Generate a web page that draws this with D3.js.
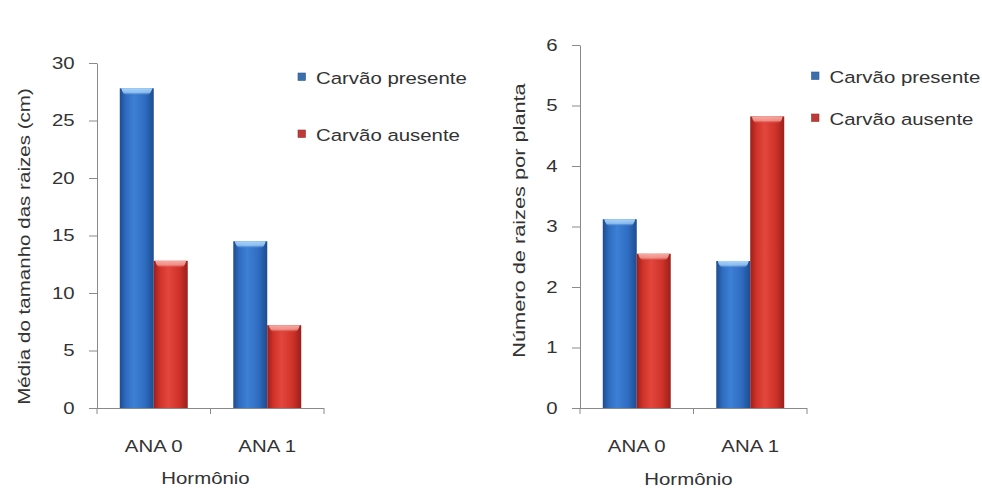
<!DOCTYPE html>
<html>
<head>
<meta charset="utf-8">
<script src="https://cdn.jsdelivr.net/npm/d3@7"></script>
<style>
  html, body { margin: 0; padding: 0; background: #ffffff; }
  svg { display: block; }
  text { font-family: "Liberation Sans", Arial, sans-serif; fill: #333333; }
</style>
</head>
<body>
<svg id="chart" width="982" height="490"></svg>
<script>
// Categories and series
const categories = ["ANA 0", "ANA 1"];
const seriesNames = ["Carvão presente", "Carvão ausente"];

// Mean root length (cm)
const lengthPresent = [27.8, 14.5];
const lengthAbsent = [12.8, 7.2];
const lengthTicks = [0, 5, 10, 15, 20, 25, 30];

// Number of roots per plant
const countPresent = [3.12, 2.43];
const countAbsent = [2.55, 4.82];
const countTicks = [0, 1, 2, 3, 4, 5, 6];

const xAxisTitle = "Hormônio";
const lengthTitle = "Média do tamanho das raizes (cm)";
const countTitle = "Número de raizes por planta";

const svg = d3.select("#chart");
const FONT = 17;       // px
const SX = 1.2;        // horizontal widening of the glyphs

// Gradients: cylinder-like shading for bars and a light bevel on top
const defs = svg.append("defs");
const palettes = [
  { id: "blue", edge: "#1d4c8f", mid: "#3d80d6", body: "#2e6cc0", cap: "#a8d4fa", key: "#3b6fae" },
  { id: "red",  edge: "#9a1f1b", mid: "#e2463d", body: "#cf3229", cap: "#f7aaa2", key: "#be3a38" }
];
palettes.forEach(p => {
  const g = defs.append("linearGradient").attr("id", "bar-" + p.id)
    .attr("x1", "0").attr("x2", "1").attr("y1", "0").attr("y2", "0");
  g.append("stop").attr("offset", "0%").attr("stop-color", p.edge);
  g.append("stop").attr("offset", "18%").attr("stop-color", p.body);
  g.append("stop").attr("offset", "42%").attr("stop-color", p.mid);
  g.append("stop").attr("offset", "75%").attr("stop-color", p.body);
  g.append("stop").attr("offset", "100%").attr("stop-color", p.edge);
  const c = defs.append("linearGradient").attr("id", "cap-" + p.id)
    .attr("x1", "0").attr("x2", "0").attr("y1", "0").attr("y2", "1");
  c.append("stop").attr("offset", "0%").attr("stop-color", p.cap);
  c.append("stop").attr("offset", "60%").attr("stop-color", p.cap).attr("stop-opacity", 0.75);
  c.append("stop").attr("offset", "100%").attr("stop-color", p.body).attr("stop-opacity", 0.3);
});

function drawPanel(cfg) {
  const g = svg.append("g");
  const y = d3.scaleLinear().domain([0, cfg.ticks[cfg.ticks.length - 1]]).range([cfg.bottom, cfg.top]);
  const x0 = d3.scaleBand().domain(categories).range([cfg.left, cfg.right]).paddingInner(0).paddingOuter(0);
  const x1 = d3.scaleBand().domain(seriesNames).range([0, x0.bandwidth()])
    .paddingInner(0).paddingOuter(0.67);

  // Y axis
  const yAxis = d3.axisLeft(y).tickValues(cfg.ticks).tickFormat(d3.format("d"))
    .tickSize(8).tickSizeOuter(0).tickPadding(10.7);
  const ya = g.append("g").attr("transform", `translate(${cfg.left},0)`).call(yAxis);
  ya.select(".domain").attr("stroke", "#8a8a8a");
  ya.selectAll(".tick line").attr("stroke", "#8a8a8a");
  ya.selectAll(".tick text")
    .attr("font-size", FONT).attr("fill", "#333")
    .attr("font-family", "Liberation Sans, Arial, sans-serif")
    .attr("transform", `scale(${SX},1)`);

  // Bars
  const rows = categories.map((c, i) => ({ cat: c, vals: [cfg.a[i], cfg.b[i]] }));
  rows.forEach(r => {
    r.vals.forEach((v, k) => {
      const p = palettes[k];
      const bx = x0(r.cat) + x1(seriesNames[k]);
      const bw = x1.bandwidth();
      const by = y(v);
      const bh = y(0) - y(v);
      g.append("rect").attr("x", bx).attr("y", by).attr("width", bw).attr("height", bh)
        .attr("fill", `url(#bar-${p.id})`);
      const capH = 7;
      g.append("path")
        .attr("d", `M${bx + 1.5},${by} L${bx + bw - 1.5},${by} Q${bx + bw - 3},${by + capH} ${bx + bw - 8},${by + capH} L${bx + 8},${by + capH} Q${bx + 3},${by + capH} ${bx + 1.5},${by} Z`)
        .attr("fill", `url(#cap-${p.id})`);
    });
  });

  // X axis: baseline and category boundary ticks
  const [r0, r1] = x0.range();
  g.append("line").attr("x1", r0).attr("x2", r1).attr("y1", y(0) + 0.5).attr("y2", y(0) + 0.5)
    .attr("stroke", "#8a8a8a");
  const bounds = categories.map(c => x0(c)).concat([r1]);
  g.selectAll(".xtick").data(bounds).enter().append("line")
    .attr("x1", d => d).attr("x2", d => d)
    .attr("y1", y(0)).attr("y2", y(0) + 6).attr("stroke", "#8a8a8a");

  categories.forEach(c => {
    g.append("text")
      .attr("transform", `translate(${x0(c) + x0.bandwidth() / 2},${cfg.catY}) scale(${SX},1)`)
      .attr("text-anchor", "middle").attr("font-size", FONT).text(c);
  });

  g.append("text")
    .attr("transform", `translate(${(r0 + r1) / 2 - 5},${cfg.titleY}) scale(${SX},1)`)
    .attr("text-anchor", "middle").attr("font-size", FONT).text(xAxisTitle);

  g.append("text")
    .attr("transform", `translate(${cfg.yTitleX},${cfg.yTitleCy}) rotate(-90) scale(${cfg.yTitleSX},1)`)
    .attr("text-anchor", "middle").attr("font-size", FONT).text(cfg.yTitle);

  // Legend
  seriesNames.forEach((s, k) => {
    const ly = cfg.legendY[k];
    const p = palettes[k];
    g.append("rect").attr("x", cfg.legendX).attr("y", ly - 11).attr("width", 7.5).attr("height", 7.5)
      .attr("fill", p.key).attr("stroke", d3.color(p.key).darker(0.6)).attr("stroke-width", 0.6);
    g.append("text")
      .attr("transform", `translate(${cfg.legendX + 18},${ly}) scale(${SX},1)`)
      .attr("font-size", FONT).text(s);
  });
}

drawPanel({
  left: 97, right: 324, top: 63, bottom: 408,
  ticks: lengthTicks, a: lengthPresent, b: lengthAbsent,
  catY: 452, titleY: 484,
  yTitle: lengthTitle, yTitleX: 30, yTitleCy: 246.5, yTitleSX: 1.21,
  legendX: 298, legendY: [84, 141]
});

drawPanel({
  left: 580, right: 807, top: 45, bottom: 408,
  ticks: countTicks, a: countPresent, b: countAbsent,
  catY: 452, titleY: 485,
  yTitle: countTitle, yTitleX: 525, yTitleCy: 220.5, yTitleSX: 1.28,
  legendX: 811.5, legendY: [83, 125]
});
</script>
</body>
</html>
